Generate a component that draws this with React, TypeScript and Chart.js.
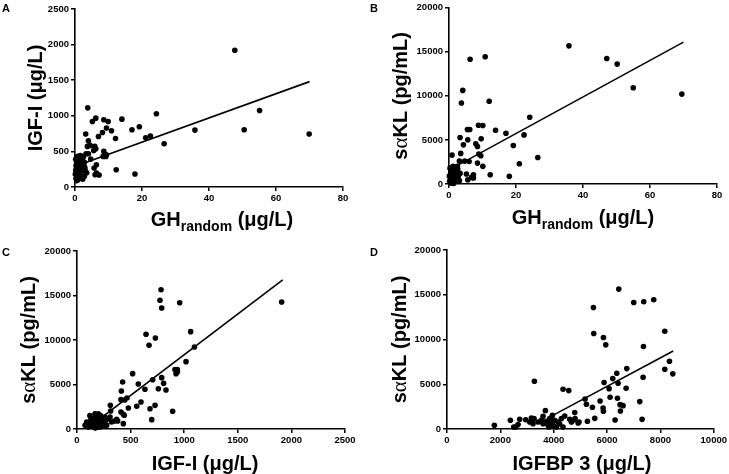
import React, { useEffect, useRef } from "react";
import { Chart, registerables } from "chart.js";
Chart.register(...registerables);

// ---------- Panel A: GH random vs IGF-I ----------
const aGH = [47.7, 55.1, 50.5, 69.9, 35.8, 24.3, 26.6, 22.5, 21.1, 19.2, 17.0, 17.9, 14.0, 12.3, 12.1, 10.9, 9.9, 9.4, 8.6, 8.2, 7.0, 3.8, 6.2, 5.2, 3.2, 4.0, 4.5, 3.7, 5.9, 5.6, 6.2, 9.4, 8.6, 9.2, 8.4, 6.4, 5.7, 6.4, 7.2, 6.0, 4.7, 4.0, 3.3, 2.8, 3.1, 2.9, 2.0, 1.5, 0.8, 0.5, 0.2, 0.3, 0.4, 0.5, 0.6, 0.3, 0.8, 1.0, 1.2, 1.5, 1.8, 2.0, 2.3, 0.7, 1.1, 1.6, 2.2, 2.6, 3.0, 0.1, 0.9, 1.3, 1.9, 2.8, 3.5, 0.5, 1.4, 2.5, 0.2, 1.0];
const aIGF = [1920, 1075, 804, 743, 799, 1028, 607, 715, 692, 846, 804, 182, 953, 243, 682, 790, 920, 827, 944, 766, 710, 1112, 967, 920, 743, 650, 584, 570, 570, 514, 537, 453, 500, 430, 430, 313, 266, 196, 168, 173, 392, 467, 467, 346, 196, 276, 430, 374, 430, 336, 390, 300, 250, 200, 150, 120, 100, 180, 260, 330, 220, 140, 110, 420, 400, 440, 380, 300, 240, 180, 350, 130, 280, 150, 200, 90, 160, 420, 230, 310];
const aFitX = [0.1, 70];
const aFitY = [290, 1480];

// ---------- Panel B: GH random vs s-alpha-KL ----------
const bGH = [35.8, 47.1, 50.2, 55.0, 69.5, 10.8, 6.3, 4.1, 3.7, 12.0, 24.1, 22.4, 17.0, 13.9, 8.8, 10.1, 9.6, 5.5, 6.2, 5.6, 3.3, 4.3, 8.0, 8.5, 19.2, 3.5, 8.9, 9.5, 0.9, 26.5, 21.0, 8.5, 10.1, 12.3, 18.0, 6.0, 4.7, 3.1, 2.5, 5.2, 5.6, 6.7, 7.3, 7.3, 3.1, 0.3, 0.5, 0.8, 1.0, 1.3, 1.6, 2.0, 0.2, 0.6, 1.2, 1.8, 2.3, 0.4, 1.1, 2.6, 0.9, 1.5, 0.7, 2.0, 3.3, 0.1, 1.7, 2.8, 1.4, 0.5];
const bSKL = [15670, 14240, 13600, 10920, 10200, 14430, 14160, 10620, 9190, 9380, 7570, 5570, 5760, 6100, 6670, 6630, 5120, 6180, 6180, 5010, 5270, 4440, 4560, 4260, 4370, 3470, 3390, 3200, 3280, 3010, 2300, 2370, 2000, 1050, 870, 2560, 2600, 2600, 2000, 1130, 490, 750, 1050, 680, 380, 1800, 1200, 800, 1500, 500, 1900, 1000, 300, 100, 2000, 700, 1300, 600, 250, 1700, 1100, 200, 1600, 400, 1200, 900, 1400, 900, 50, 400];
const bFitX = [0.1, 70];
const bFitY = [1600, 16100];

// ---------- Panel C: IGF-I vs s-alpha-KL ----------
const cIGF = [784, 774, 790, 958, 1909, 1060, 644, 731, 672, 1095, 1017, 914, 936, 924, 936, 519, 426, 572, 706, 790, 808, 634, 759, 830, 414, 466, 410, 445, 479, 597, 557, 728, 681, 892, 697, 311, 314, 410, 432, 441, 432, 370, 348, 379, 75, 121, 168, 199, 174, 137, 106, 230, 261, 246, 199, 292, 152, 277, 323, 215, 90, 184, 308, 131, 100, 140, 160, 180, 210, 250, 270, 120, 190, 230, 150, 220, 170, 110, 260];
const cSKL = [15650, 14460, 13600, 14190, 14270, 10940, 10640, 10220, 9400, 9210, 7570, 6670, 6670, 6220, 6400, 6220, 5280, 5060, 5540, 5770, 5130, 4460, 4530, 4380, 4270, 3480, 3300, 3260, 2360, 3030, 2550, 2660, 2280, 1990, 1050, 2660, 2020, 1910, 1650, 1540, 600, 1090, 900, 900, 410, 790, 1720, 1720, 1160, 600, 220, 1160, 1350, 790, 600, 1160, 220, 410, 790, 220, 790, 860, 1350, 1090, 300, 1000, 500, 1300, 900, 400, 1000, 1500, 200, 700, 1200, 1500, 100, 700, 600];
const cFitX = [95, 1919];
const cFitY = [60, 16750];

// ---------- Panel D: IGFBP 3 vs s-alpha-KL ----------
const dBP3 = [6438, 5488, 7000, 7375, 7750, 8163, 5500, 5863, 5950, 7363, 8338, 8163, 8463, 6738, 6363, 6213, 5888, 6413, 6075, 6713, 7350, 3275, 4350, 4563, 5175, 5738, 6113, 6388, 7225, 5225, 5450, 5850, 5863, 6488, 6600, 6500, 7313, 6300, 5538, 5263, 4788, 4800, 4413, 3688, 3600, 3263, 3163, 2950, 2725, 2375, 1775, 2575, 2500, 2663, 3100, 3413, 3538, 3725, 3850, 3950, 3888, 4038, 4163, 4288, 4663, 4913, 4600, 3788, 3975, 4100, 4350, 3600, 3913, 3225, 4225, 4725, 4950, 3825];
const dSKL = [15630, 13580, 14140, 14220, 14440, 10930, 10670, 10220, 9400, 9220, 7570, 6680, 6160, 6750, 6230, 5630, 5190, 5110, 4510, 4550, 5780, 5340, 4440, 4290, 3360, 3130, 3540, 3430, 3060, 2760, 2430, 2350, 1980, 2720, 2610, 2010, 1080, 1010, 1190, 860, 1830, 1160, 1460, 2050, 1420, 1160, 1230, 1040, 1080, 970, 410, 220, 220, 490, 780, 780, 970, 860, 1160, 1530, 780, 970, 780, 1160, 780, 670, 1080, 410, 410, 220, 220, 600, 1230, 600, 560, 970, 780, 220];
const dFitX = [3950, 8480];
const dFitY = [1490, 8720];

// ---------- Axis ranges and titles ----------
const xMaxes = [80, 80, 2500, 10000];
const xSteps = [20, 20, 500, 2000];
const yMaxes = [2500, 20000, 20000, 20000];
const ySteps = [500, 5000, 5000, 5000];
const panelLetters = ["A", "B", "C", "D"];

const SANS = '"Liberation Sans", Arial, Helvetica, sans-serif';
const SERIF = '"Liberation Serif", "DejaVu Serif", serif';

type Part = { t: string; size: number; family?: string; weight?: string; dy?: number };

const ghTitle: Part[] = [
  { t: "GH", size: 20 },
  { t: "random", size: 14, dy: 5 },
  { t: " (\u03bcg/L)", size: 20 },
];
const igfTitle: Part[] = [{ t: "IGF-I (\u03bcg/L)", size: 20 }];
const sklTitle: Part[] = [
  { t: "s", size: 20 },
  { t: "\u03b1", size: 21, family: SERIF, weight: "normal" },
  { t: "KL (pg/mL)", size: 20 },
];
const bp3Title: Part[] = [{ t: "IGFBP 3 (\u03bcg/L)", size: 20 }];

type Layout = {
  left: number; top: number; w: number; h: number;
  yAxisW: number; xAxisH: number; padTop: number; padRight: number;
  xTitleCx: number; xTitleBase: number; yTitleCx: number;
  letterX: number; letterY: number;
};

const layouts: Layout[] = [
  { left: 0, top: 0, w: 364, h: 237, yAxisW: 75, xAxisH: 50, padTop: 9, padRight: 21, xTitleCx: 222, xTitleBase: 226, yTitleCx: 35, letterX: 2, letterY: 3 },
  { left: 364, top: 0, w: 365, h: 237, yAxisW: 85, xAxisH: 53, padTop: 7, padRight: 12, xTitleCx: 219, xTitleBase: 224, yTitleCx: 36, letterX: 6, letterY: 3 },
  { left: 0, top: 237, w: 364, h: 237, yAxisW: 77, xAxisH: 45, padTop: 14, padRight: 19, xTitleCx: 205, xTitleBase: 233, yTitleCx: 28, letterX: 2, letterY: 10 },
  { left: 364, top: 237, w: 365, h: 237, yAxisW: 83, xAxisH: 45, padTop: 13, padRight: 15, xTitleCx: 218, xTitleBase: 233, yTitleCx: 35, letterX: 6, letterY: 10 },
];

function font(p: Part) {
  return `${p.weight ?? "bold"} ${p.size}px ${p.family ?? SANS}`;
}

function drawParts(ctx: CanvasRenderingContext2D, parts: Part[], x0: number, y0: number) {
  let x = x0;
  for (const p of parts) {
    ctx.font = font(p);
    ctx.fillText(p.t, x, y0 + (p.dy ?? 0));
    x += ctx.measureText(p.t).width;
  }
}

function partsWidth(ctx: CanvasRenderingContext2D, parts: Part[]) {
  let w = 0;
  for (const p of parts) {
    ctx.font = font(p);
    w += ctx.measureText(p.t).width;
  }
  return w;
}

function Panel({ idx, xs, ys, fx, fy, xTitle, yTitle }: {
  idx: number; xs: number[]; ys: number[]; fx: number[]; fy: number[]; xTitle: Part[]; yTitle: Part[];
}) {
  const ref = useRef<HTMLCanvasElement | null>(null);
  const L = layouts[idx];
  useEffect(() => {
    if (!ref.current) return;
    const titles = {
      id: "titles",
      afterDraw(chart: any) {
        const ctx: CanvasRenderingContext2D = chart.ctx;
        const area = chart.chartArea;
        ctx.save();
        ctx.fillStyle = "#000";
        ctx.textBaseline = "alphabetic";
        ctx.textAlign = "left";
        // x title
        const xw = partsWidth(ctx, xTitle);
        drawParts(ctx, xTitle, L.xTitleCx - xw / 2, L.xTitleBase);
        // y title (rotated)
        const yw = partsWidth(ctx, yTitle);
        const cy = (area.top + area.bottom) / 2;
        ctx.save();
        ctx.translate(L.yTitleCx + 7, cy);
        ctx.rotate(-Math.PI / 2);
        drawParts(ctx, yTitle, -yw / 2, 0);
        ctx.restore();
        // panel letter
        ctx.font = `bold 11px ${SANS}`;
        ctx.textBaseline = "top";
        ctx.fillText(panelLetters[idx], L.letterX, L.letterY);
        ctx.restore();
      },
    };
    const chart = new Chart(ref.current, {
      type: "scatter",
      data: {
        datasets: [
          {
            data: xs.map((x, i) => ({ x, y: ys[i] })),
            backgroundColor: "#000",
            borderColor: "#000",
            pointRadius: 2.8,
            pointHoverRadius: 2.8,
            borderWidth: 0,
            clip: false as any,
          },
          {
            type: "line" as any,
            data: fx.map((x, i) => ({ x, y: fy[i] })),
            borderColor: "#000",
            borderWidth: 1.6,
            pointRadius: 0,
            showLine: true,
            fill: false,
          },
        ],
      },
      options: {
        animation: false,
        responsive: false,
        events: [],
        layout: { padding: { top: L.padTop, right: L.padRight, left: 0, bottom: 0 } },
        plugins: { legend: { display: false }, tooltip: { enabled: false } },
        scales: {
          x: {
            type: "linear",
            min: 0,
            max: xMaxes[idx],
            afterFit: (s: any) => { s.height = L.xAxisH; },
            ticks: {
              stepSize: xSteps[idx],
              color: "#000",
              font: { family: SANS, size: 9.5, weight: "bold" },
              padding: 2,
              maxRotation: 0,
              callback: (v: any) => String(v),
            },
            grid: { display: true, drawOnChartArea: false, drawTicks: true, tickLength: 4, color: "#000", lineWidth: 1.5 },
            border: { display: true, color: "#000", width: 1.6 },
          },
          y: {
            type: "linear",
            min: 0,
            max: yMaxes[idx],
            afterFit: (s: any) => { s.width = L.yAxisW; },
            ticks: {
              stepSize: ySteps[idx],
              color: "#000",
              font: { family: SANS, size: 9.5, weight: "bold" },
              padding: 2,
              callback: (v: any) => String(v),
            },
            grid: { display: true, drawOnChartArea: false, drawTicks: true, tickLength: 4, color: "#000", lineWidth: 1.5 },
            border: { display: true, color: "#000", width: 1.6 },
          },
        },
      } as any,
      plugins: [titles],
    });
    return () => chart.destroy();
  }, []);
  return (
    <canvas
      ref={ref}
      width={L.w}
      height={L.h}
      style={{ position: "absolute", left: L.left, top: L.top, width: L.w, height: L.h }}
    />
  );
}

export default function App() {
  useEffect(() => {
    document.body.style.margin = "0";
    document.body.style.overflow = "hidden";
    document.body.style.background = "#fff";
  }, []);
  return (
    <div style={{ position: "absolute", left: 0, top: 0, width: 729, height: 474, background: "#fff", overflow: "hidden" }}>
      <Panel idx={0} xs={aGH} ys={aIGF} fx={aFitX} fy={aFitY} xTitle={ghTitle} yTitle={igfTitle} />
      <Panel idx={1} xs={bGH} ys={bSKL} fx={bFitX} fy={bFitY} xTitle={ghTitle} yTitle={sklTitle} />
      <Panel idx={2} xs={cIGF} ys={cSKL} fx={cFitX} fy={cFitY} xTitle={igfTitle} yTitle={sklTitle} />
      <Panel idx={3} xs={dBP3} ys={dSKL} fx={dFitX} fy={dFitY} xTitle={bp3Title} yTitle={sklTitle} />
    </div>
  );
}
